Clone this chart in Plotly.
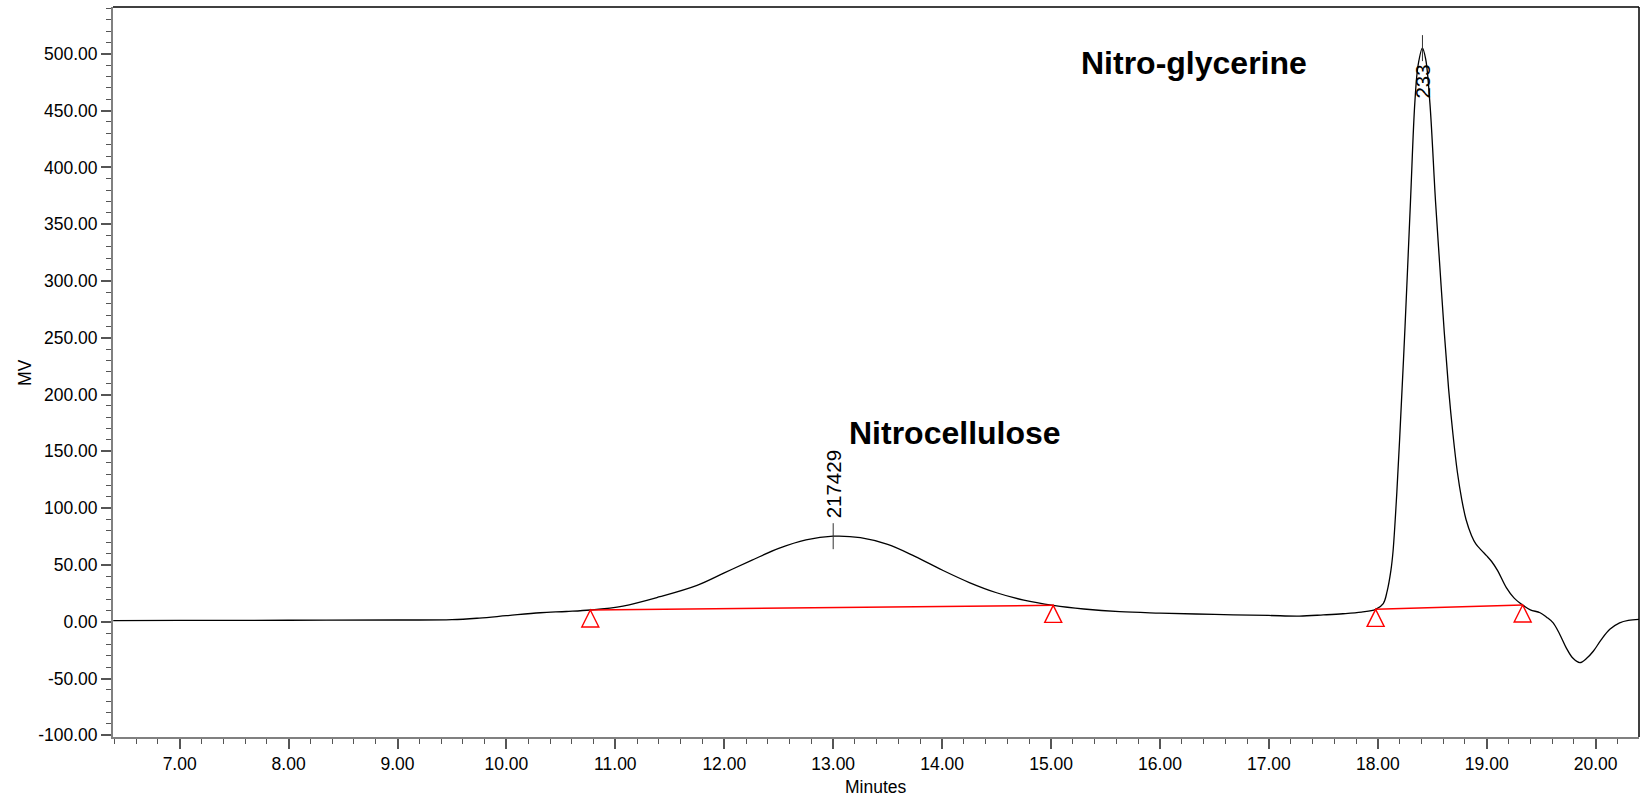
import plotly.graph_objects as go

# Detector trace (time in minutes, signal in mV)
time_min = [6.39, 7.0, 8.0, 9.0, 9.5, 9.75, 10.0, 10.31, 10.55, 10.77, 11.07, 11.41,
            11.75, 12.0, 12.25, 12.5, 12.75, 13.0, 13.25, 13.5, 13.75, 14.0, 14.25,
            14.5, 14.75, 15.02, 15.3, 15.63, 16.0, 16.5, 17.0, 17.28, 17.5,
            17.68, 17.85, 17.98, 18.05, 18.086, 18.12, 18.14, 18.17, 18.2, 18.25,
            18.3, 18.34, 18.37, 18.41, 18.44, 18.478, 18.53, 18.57, 18.61, 18.65,
            18.69, 18.73, 18.77, 18.81, 18.86, 18.9, 18.95, 19.0, 19.045, 19.1,
            19.18, 19.25, 19.33, 19.4, 19.49, 19.55, 19.61, 19.67, 19.73, 19.79,
            19.855, 19.92, 19.98, 20.05, 20.13, 20.22, 20.3, 20.4]
signal_mv = [1.0, 1.1, 1.3, 1.5, 1.8, 3.2, 5.3, 7.9, 9.0, 10.3, 13.8, 22.0,
             32.0, 43.0, 54.0, 64.5, 72.0, 75.3, 74.0, 68.0, 57.5, 45.5, 34.5,
             25.5, 19.0, 14.4, 11.2, 8.8, 7.6, 6.4, 5.5, 5.0, 6.0,
             7.0, 8.5, 10.9, 16.0, 27.0, 45.0, 62.0, 106.0, 160.0, 260.0,
             370.0, 457.0, 490.0, 505.0, 495.0, 457.0, 370.0, 312.0, 255.0, 205.0,
             165.0, 132.0, 108.0, 90.0, 76.0, 68.5, 63.0, 58.0, 53.0, 45.0,
             30.0, 21.0, 14.7, 10.5, 7.9, 4.0, -1.0, -11.0, -23.0, -32.0,
             -36.0, -32.0, -25.8, -16.0, -6.7, -1.0, 1.2, 2.1]

# Integration baselines: start/end (time, mV) for each peak
base_start_t = [10.77, 17.98]
base_start_v = [10.3, 10.9]
base_end_t = [15.02, 19.33]
base_end_v = [14.4, 14.7]

# Peak apexes and their labels
apex_t = [13.0, 18.41]
apex_v = [75.3, 505.0]
apex_labels = ["217429", "233"]

# Component names
component_names = ["Nitrocellulose", "Nitro-glycerine"]
component_t = [13.13, 15.26]
component_v = [166.0, 492.0]

# Axis tick values
y_tickvals = [-100, -50, 0, 50, 100, 150, 200, 250, 300, 350, 400, 450, 500]
y_ticktext = ["%.2f" % v for v in y_tickvals]
x_tickvals = [7, 8, 9, 10, 11, 12, 13, 14, 15, 16, 17, 18, 19, 20]
x_ticktext = ["%.2f" % v for v in x_tickvals]

FONT = "Liberation Sans, Arial, sans-serif"
RED = "#ff0000"

fig = go.Figure()

fig.add_trace(go.Scatter(
    x=time_min, y=signal_mv, mode="lines",
    line=dict(color="#000000", width=1.3, shape="spline", smoothing=1.0),
    hoverinfo="skip", showlegend=False,
))

# Red baselines
for t0, v0, t1, v1 in zip(base_start_t, base_start_v, base_end_t, base_end_v):
    fig.add_trace(go.Scatter(
        x=[t0, t1], y=[v0, v1], mode="lines",
        line=dict(color=RED, width=1.5),
        hoverinfo="skip", showlegend=False,
    ))

shapes = []
# Open triangles hanging below each baseline point
for t, v in zip(base_start_t + base_end_t, base_start_v + base_end_v):
    shapes.append(dict(
        type="path", xref="x", yref="y",
        xsizemode="pixel", ysizemode="pixel", xanchor=t, yanchor=v,
        path="M0,0 L-8.5,-17 L8.5,-17 Z",
        line=dict(color=RED, width=1.4), fillcolor="rgba(0,0,0,0)",
    ))

# Apex tick marks
for t, v in zip(apex_t, apex_v):
    shapes.append(dict(
        type="line", xref="x", yref="y",
        ysizemode="pixel", yanchor=v, x0=t, x1=t, y0=-13, y1=13,
        line=dict(color="#333333", width=1),
    ))

# Top and right frame lines
shapes.append(dict(type="line", xref="paper", yref="paper", x0=0, x1=1, y0=1, y1=1,
                   line=dict(color="#000000", width=1.5)))
shapes.append(dict(type="line", xref="paper", yref="paper", x0=1, x1=1, y0=0, y1=1,
                   line=dict(color="#000000", width=1.5)))

annotations = []
# Apex labels (rotated)
annotations.append(dict(
    x=apex_t[0], y=apex_v[0], xref="x", yref="y", text=apex_labels[0],
    textangle=-90, showarrow=False, xanchor="center", yanchor="bottom", yshift=16,
    font=dict(family=FONT, size=20.5, color="#000000"),
))
annotations.append(dict(
    x=apex_t[1], y=apex_v[1], xref="x", yref="y", text=apex_labels[1],
    textangle=-90, showarrow=False, xanchor="center", yanchor="top", yshift=-14,
    font=dict(family=FONT, size=20.5, color="#000000"),
))
# Component names
for name, t, v in zip(component_names, component_t, component_v):
    annotations.append(dict(
        x=t, y=v, xref="x", yref="y", text="<b>" + name + "</b>",
        showarrow=False, xanchor="left", yanchor="middle",
        font=dict(family=FONT, size=32, color="#000000"),
    ))
# Axis titles
annotations.append(dict(
    x=-0.0577, y=0.5, xref="paper", yref="paper", text="MV", textangle=-90,
    showarrow=False, xanchor="center", yanchor="middle",
    font=dict(family=FONT, size=17.5, color="#000000"),
))
annotations.append(dict(
    x=0.5, y=-0.068, xref="paper", yref="paper", text="Minutes",
    showarrow=False, xanchor="center", yanchor="middle",
    font=dict(family=FONT, size=17.5, color="#000000"),
))

fig.update_layout(
    width=1643, height=798,
    margin=dict(l=113, r=4, t=7, b=61, pad=0),
    paper_bgcolor="#ffffff", plot_bgcolor="#ffffff",
    font=dict(family=FONT, size=17.5, color="#000000"),
    shapes=shapes, annotations=annotations,
    showlegend=False,
)
fig.update_xaxes(
    range=[6.388, 20.398], tickmode="array", tickvals=x_tickvals, ticktext=x_ticktext,
    showgrid=False, zeroline=False,
    showline=True, linecolor="#808080", linewidth=2,
    ticks="outside", ticklen=10, tickwidth=1.5, tickcolor="#555555",
    minor=dict(tickmode="linear", dtick=0.2, tick0=0, ticks="outside", ticklen=5,
               tickwidth=1, tickcolor="#555555", showgrid=False),
    tickfont=dict(family=FONT, size=17.5, color="#000000"),
)
fig.update_yaxes(
    range=[-101.5, 541.2], tickmode="array", tickvals=y_tickvals, ticktext=y_ticktext,
    showgrid=False, zeroline=False,
    showline=True, linecolor="#808080", linewidth=2,
    ticks="outside", ticklen=10, tickwidth=1.5, tickcolor="#555555",
    minor=dict(tickmode="linear", dtick=10, tick0=0, ticks="outside", ticklen=5,
               tickwidth=1, tickcolor="#555555", showgrid=False),
    tickfont=dict(family=FONT, size=17.5, color="#000000"),
)

fig.write_html("out.html")
